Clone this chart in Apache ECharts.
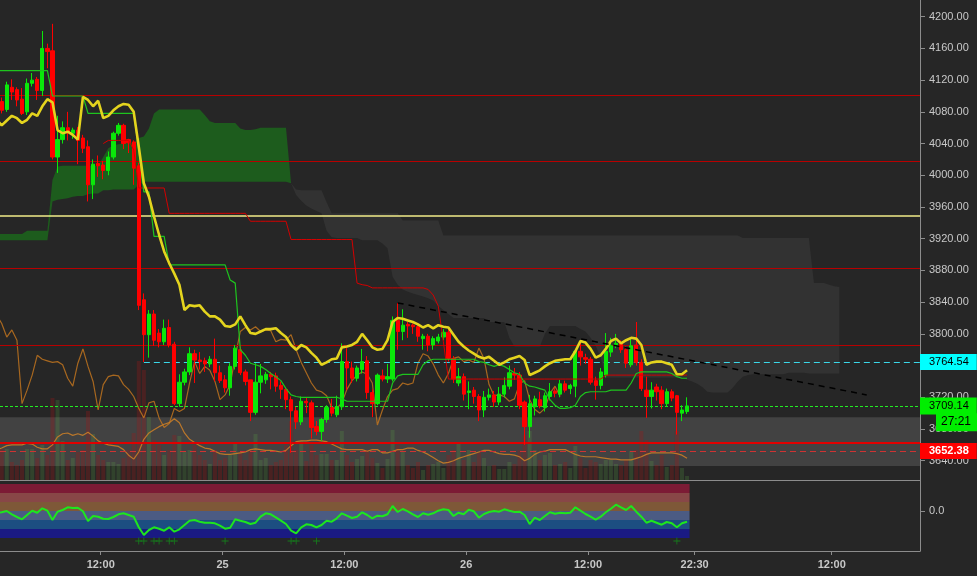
<!DOCTYPE html>
<html><head><meta charset="utf-8">
<script src="https://cdn.jsdelivr.net/npm/echarts@6/dist/echarts.min.js"></script>
<style>html,body{margin:0;padding:0;background:#262626;}#c{width:977px;height:576px;}</style>
</head><body><div id="c"></div><script>
// ---------- time axis ----------
const FIRST_BAR_HOUR = 1.75;      // hours after 24th 00:00 of the first 30-min candle
const BAR_HOURS = 0.5;
const timeTicks = [12, 24, 36, 48, 60, 70.5, 84];
const timeTickLabels = ['12:00', '25', '12:00', '26', '12:00', '22:30', '12:00'];
const priceTicks = [3640,3680,3720,3760,3800,3840,3880,3920,3960,4000,4040,4080,4120,4160,4200];

// ---------- candles [open, high, low, close] ----------
const candleOHLC = [
[4166,4172,4078,4082],[4093,4098,4078,4082],[4083,4118,4080,4114],[4111,4121,4095,4105],[4108,4111,4087,4095],
[4096,4110,4076,4078],[4080,4122,4076,4116],[4116,4129,4112,4120],[4121,4124,4095,4107],[4107,4182,4100,4160],
[4160,4166,4135,4156],[4157,4191,4020,4023],[4023,4075,4003,4045],[4045,4068,4040,4060],[4060,4080,4044,4055],
[4053,4060,4046,4057],[4057,4061,4014,4044],[4047,4051,4028,4034],[4036,4044,3967,3988],[3988,4020,3970,4014],
[4015,4025,3998,4012],[4013,4018,3995,4006],[4006,4030,4000,4023],[4023,4055,4020,4053],[4053,4066,4050,4063],
[4063,4065,4033,4040],[4045,4046,4028,4041],[4042,4044,3988,4009],[4012,4016,3830,3836],[3843,3851,3764.54,3799],
[3799,3830,3770,3825],[3825,3830,3785,3792],[3801,3806,3783,3790],[3790,3818,3786,3807],[3808,3818,3783,3786],
[3787,3790,3710,3712],[3712,3749,3708,3739],[3739,3756,3735,3752],[3752,3783,3748,3775],[3775,3780,3738,3767],
[3767,3777,3755,3765],[3766,3770,3752,3762],[3762,3772,3758,3768],[3768,3794,3740,3751],[3751,3760,3738,3741],
[3742,3748,3726,3732],[3732,3763,3722,3759],[3759,3786,3755,3782],[3780,3784,3748,3751],[3752,3755,3735,3740],
[3742,3742,3690,3701],[3701,3763,3698,3739],[3739,3762,3725,3747],[3742,3752,3737,3749],[3749,3752,3730,3746],
[3747,3751,3727,3734],[3735,3740,3718,3730],[3730,3733,3705,3717],[3717,3721,3650,3703],[3703,3708,3680,3689],
[3689,3721,3685,3715],[3715,3720,3700,3713],[3713,3716,3668,3682],[3683,3690,3672,3677],[3677,3694,3665,3692],
[3692,3710,3688,3707],[3707,3718,3696,3700],[3698,3722,3695,3708],[3708,3788,3704,3765],[3765,3782,3729,3757],
[3757,3765,3738,3744],[3744,3760,3740,3757],[3755,3781,3750,3765],[3766,3772,3718,3726],[3726,3730,3695,3712],
[3712,3750,3710,3748],[3747,3755,3740,3743],[3743,3762,3738,3746],[3743,3822,3740,3817],[3817,3839,3780,3803],
[3803,3831,3792,3811],[3812,3815,3795,3810],[3811,3813,3800,3809],[3809,3812,3790,3797],[3794,3800,3780,3797],
[3797,3800,3778,3786],[3786,3797,3780,3794],[3791,3800,3788,3796],[3796,3806,3792,3802],[3802,3806,3765,3769],
[3769,3772,3738,3743],[3738,3757,3734,3746],[3746,3750,3716,3724],[3726,3740,3705,3728],[3729,3733,3712,3721],
[3721,3724,3690,3704],[3704,3728,3695,3720],[3720,3731,3716,3723],[3723,3728,3708,3714],[3714,3733,3710,3724],
[3724,3745,3720,3735],[3734,3760,3730,3751],[3750,3757,3742,3748],[3748,3752,3705,3710],[3714,3716,3660,3683],
[3683,3723,3669,3712],[3708,3722,3697,3718],[3717,3727,3706,3709],[3707,3726,3702,3722],[3721,3738,3716,3727],
[3728,3732,3720,3725],[3724,3742,3720,3737],[3737,3741,3726,3729],[3731,3737,3724,3735],[3734,3780,3720,3778],
[3778,3792,3760,3771],[3770,3775,3762,3768],[3768,3771,3736,3739],[3741,3746,3717,3735],[3735,3757,3730,3752],
[3748,3801,3745,3778],[3777,3795,3771,3785],[3785,3800,3782,3788],[3788,3792,3776,3780],[3780,3784,3757,3763],
[3761,3795,3758,3785],[3786,3815,3760,3764],[3764,3768,3728,3731],[3729,3746,3694,3721],[3721,3739,3706,3729],
[3733,3737,3716,3727],[3729,3734,3705,3712],[3712,3731,3708,3727],[3727,3730,3715,3719],[3722,3723,3673,3701],
[3700,3710,3690,3704],[3702,3720,3699,3709.14]
];

const volume = [
300,310,310,180,150,200,310,310,220,350,
250,820,800,390,200,220,280,300,690,460,
250,200,180,180,160,220,300,470,1190,1100,
630,400,350,250,300,450,440,280,300,350,
250,200,160,300,200,220,250,360,280,200,
300,460,200,220,150,180,200,350,590,300,
390,190,350,250,260,260,200,200,490,250,
180,210,240,300,220,170,120,210,500,350,
280,150,120,180,100,150,160,180,120,250,
300,360,200,300,180,280,220,140,150,110,
110,180,160,300,450,490,300,200,250,270,
150,160,180,120,340,220,120,200,180,160,
200,200,160,150,200,290,300,490,400,190,
150,250,130,150,490,120,40];

// ---------- indicator lines (one value per candle) ----------
const yellowLine = [
4070,4063,4069,4075,4072,4066,4070,4078,4075,4087,
4096,4092,4057,4053,4055,4051,4045,4099,4095,4087,
4094,4072,4075,4082,4087,4090,4089,4080,4036,3990,
3973,3948,3925,3904,3889,3876,3862,3830,3836,3835,
3836,3828,3822,3822,3818,3810,3809,3812,3822,3811,
3801,3800,3803,3806,3806,3807,3801,3796,3786,3780,
3786,3783,3776,3770,3761,3764,3768,3769,3783,3784,
3786,3790,3800,3792,3783,3780,3781,3792,3815,3820,
3819,3817,3815,3812,3808,3811,3807,3811,3809,3808,
3799,3790,3784,3779,3775,3771,3769,3771,3766,3761,
3764,3768,3770,3772,3767,3748,3751,3754,3759,3763,
3766,3767,3768,3768,3778,3791,3789,3781,3770,3773,
3781,3791,3794,3788,3792,3795,3794,3786,3761,3764,
3765,3765,3763,3761,3749,3749,3754];

const kijunLine = [
4132,4132,4132,4132,4132,4132,4132,4132,4132,4132,4132,
4100,4100,4100,4100,4100,4100,4100,
4078,4078,4078,4078,4078,4078,4078,4078,4078,4078,
4032,3979,3979,3923,3923,3923,
3887,3887,3887,3887,3887,3887,3887,3887,3887,3887,3887,3887,
3868,3864,3780,
3773,3763,3761,3759,3755,3750,3746,3741,3731,3723,3721,
3720,3720,3720,3720,3720,3720,3720,3720,
3718,
3715,3715,3715,3715,3715,3715,3715,3715,3715,
3738,3747,
3749,3749,3749,3749,
3761,3766,
3768,3768,3768,3768,3768,3768,3768,3768,3768,
3765,3764,3761,3759,3761,3759,3755,3751,3749,3738,3734,3733,3731,3729,3717,3710,3706,3706,3707,3710,3721,3726,
3727,3727,3727,3727,
3729,3729,3729,3729,
3738,3750,
3752,3752,3752,3752,3752,3752,
3750,3746,3744,3744];

const redStepStart = 21;
const redStepLine = [
4040,4044,4044,4044,4044,4044,
4032,
3984,3984,3984,3984,3984,3984,
3952,3952,3952,3952,3952,3952,3952,3952,3952,3952,3952,3952,3952,3952,3952,3952,
3942,3942,3942,3942,3942,3942,3942,3942,
3919,3919,3919,3919,3919,3919,3919,3919,3919,3919,3919,3919,3919,
3864,3862,3861,
3858,3858,3858,3858,3858,3858,3858,3858,3858,3858,3858,
3856,3849,3835,3790,
3743,3743,3743,3743,3743,3743,3743,3743,3743,3743,3743,3743,3743,3743,3743,3743,
3743,3743,3743,3743,3743,3743,3743,3743,3743,3743,3743,3743,3743,3743,3743,
3748,3748,3748,3748,3748,3748,3748,3748,3748,3748,3748,3748,3748,3748,3748,3748,3748];

const orangeUpper = [
3824,3813,3796,3805,3792,3712,3729,3748,3773,3768,
3766,3764,3765,3761,3744,3734,3763,3781,3759,3740,
3704,3736,3746,3748,3747,3736,3730,3721,3706,3694,
3713,3715,3694,3682,3687,3706,3702,3706,3738,3765,
3750,3759,3754,3740,3717,3723,3736,3771,3803,3808,
3805,3809,3803,3805,3804,3790,3793,3792,3799,3780,
3764,3751,3738,3729,3727,3722,3707,3706,3713,3730,
3741,3748,3752,3749,3738,3685,3704,3721,3729,3731,
3738,3736,3738,3763,3775,3772,3762,3748,3738,3750,
3769,3771,3765,3767,3764,3782,3769,3736,3722,3723,
3721,3715,3718,3737,3741,3717,3705,3700,3706,3725,
3734,3721];

const orangeLower = [
3654,3656,3659,3660,3660,3660,3662,3661,3657,3655,
3655,3660,3670,3674,3675,3672,3674,3672,3676,3671,
3665,3662,3660,3659,3658,3654,3647,3642,3651,3667,
3675,3679,3683,3686,3688,3693,3688,3675,3667,3663,
3659,3656,3655,3652,3649,3648,3648,3649,3650,3651,
3654,3655,3654,3653,3653,3652,3651,3653,3659,3664,
3665,3665,3666,3666,3665,3664,3661,3658,3655,3654,
3654,3654,3654,3652,3654,3654,3650,3650,3652,3654,
3654,3656,3656,3653,3651,3648,3644,3640,3637,3638,
3640,3643,3645,3647,3649,3651,3653,3653,3651,3649,
3648,3648,3647,3645,3640,3643,3648,3651,3652,3654,
3654,3654,3654,3651,3648,3646,3645,3645,3645,3644,
3643,3642,3642,3641,3641,3641,3643,3645,3648,3650,
3650,3650,3650,3650,3649,3647,3643];

// ---------- cloud spans (extend 30 bars ahead) ----------
const spanA = [
3926,3926,3926,3926,3926,3926,3930,3930,3930,3930,3930,
3994,4011,
4012,4012,4012,4012,4012,4012,4012,4012,
4023,4034,4038,4039,4040,4041,4041,
4047,4049,4059,4078,
4083,4083,4083,4083,4083,4083,4083,4083,4083,
4076,4068,
4066,4066,4066,4066,4066,
4059,4057,4057,4058,
4060,4060,4060,4060,4060,4060,
3990,3975,3968,3962,3958,3955,3952,
3930,3922,
3921,3921,3921,3921,3921,
3918,3918,3918,3918,
3914,3908,3872,3862,3856,3853,3851,3849,3847,3845,3842,3835,3830,3825,
3820,3820,3820,3820,3820,3820,3820,
3815,3815,3815,3815,
3795,
3784,3784,3784,3784,3784,3784,
3800,
3810,3810,3810,3810,3810,3810,
3806,3803,3795,3785,3770,
3745,3745,3745,3745,3745,3745,3745,3745,3745,3745,3745,3745,3745,3745,3745,3745,
3742,3740,3737,3733,3727,
3726,3726,3726,3726,
3732,3740,3746,3748,
3749,3749,3749,3749,3749,3749,3749,
3751,3751,3751,3751,
3750,3750,3750,3750,3750,3750,3750];

const spanB = [
3918,3918,3918,3918,3918,3918,3918,3918,3918,3918,3918,
3967,3969,3970,3971,3973,3974,3974,3976,3977,3977,
3981,3981,
3982,3982,3982,3982,3982,
3988,
3992,3992,3992,3992,3992,3992,3992,3992,3992,3992,3992,3992,3992,3992,3992,
3992,3992,3992,3992,3992,3992,3992,3992,3992,3992,3992,3992,3992,3992,
3990,3982,
3981,3981,3981,3981,3981,
3966,
3952,3952,3952,3952,3952,3952,3952,3952,3952,3952,3952,3952,3952,3952,
3943,3943,3943,3943,3943,3943,3943,3943,
3924,3924,3924,3924,3924,3924,3924,3924,3924,3924,3924,3924,3924,3924,3924,3924,3924,3924,3924,3924,
3924,3924,3924,3924,3924,3924,3924,3924,3924,3924,3924,3924,3924,3924,3924,3924,3924,3924,3924,3924,
3924,3924,3924,3924,3924,3924,3924,3924,3924,3924,3924,3924,3924,3924,3924,3924,3924,3924,3924,
3921,3921,3921,3921,3921,3921,3921,3921,3921,3921,3921,3921,3921,3921,
3864,3864,3864,3862,3860,3859];

// ---------- price levels ----------
const redLevels = [4101, 4018, 3883, 3786];
const paleLevel = 3949.5;
const supportLevel = 3663;
const lastLow = 3652.38;
const lastPrice = 3709.14;
const barTimer = '27:21';
const cyanLevel = 3764.54;
const cyanStartBar = 29;
const grayBand = [3633.4, 3694.8];
const trendLine = [[79, 3839], [171.4, 3723]];   // [bar index, price]

// ---------- lower oscillator ----------
const oscillator = [
-2,-1.3,0,-3.3,-6,-8.3,-4,0.3,-1.7,2.7,0.3,
-9,-0.7,1,3.7,3,3.3,-0.3,-10,-5,-5.7,
-7.7,-8,-6,-3.3,-2.3,-4,-5.7,-16.3,-24,-19,
-16.3,-17.7,-19.7,-16.3,-20.7,-18.3,-14,-9.7,-9,-10.7,
-11.7,-11.7,-12.3,-14.7,-17.7,-16.7,-8.3,-9.7,-11,-13,
-11.7,-5.7,-2.3,-3.3,-6.3,-9.7,-13,-19.7,-22.3,-16.3,
-13.3,-14,-16.3,-14,-9.7,-10.7,-7.3,-2.3,-4.7,-7,
-5.7,-1.3,-4,-7.3,-4.7,-5.3,-3.3,5,-1,2,
-0.3,-3.3,-6,-2.3,-3.7,-2.3,0.3,1.7,1,-5,
-1.7,-3.3,1.3,-0.3,-6.7,-3,-1,0,-0.7,1.7,
0.3,-1,-0.7,-4,-13,-6.7,-9,-5,-1.3,-2.7,
-1.7,-2.3,-1.7,3.7,0.3,-3,-5.7,-8.7,-5.7,-1.3,
2.3,6.3,3.7,1,5,-0.7,-5.7,-11.7,-9.7,-11.7,
-13.7,-11,-12.3,-16.3,-12.3,-10.7];
const oscBandLevels = [27, 18, 9, 0, -9, -18, -27];
const oscBandColors = ['#7c1b35', '#884747', '#7e5838', '#4b5b83', '#1c4e81', '#1a1a83'];
const oscSignalBars = [28, 29, 31, 32, 34, 35, 45, 58, 59, 63, 134];
const oscSignalLevel = -30;

// ---------- chart ----------
const X_MIN = 2.0818, X_MAX = 92.696;
const Y_MIN = 3615.7, Y_MAX = 4221.06;
function barX(k) { return FIRST_BAR_HOUR + BAR_HOURS * k; }

const UP = '#0ae80a', DOWN = '#ff0000';
const AXIS_C = '#8c8c8c', LABEL_C = '#c8c8c8';
const FONT = 'Liberation Sans, Arial, sans-serif';
const CLOUD_UP = '#1d5c1d', CLOUD_DN = '#323232';

const chart = echarts.init(document.getElementById('c'));

// whole cloud drawn as one polygon per same-colour run
function cloudItem(params, api) {
  const children = [];
  let cur = null;
  const flush = () => {
    if (!cur) return;
    const pts = cur.top.concat(cur.bot.slice().reverse()).map(pt => api.coord(pt));
    children.push({ type: 'polygon', shape: { points: pts },
      style: { fill: cur.up ? CLOUD_UP : CLOUD_DN } });
  };
  for (let i = 0; i < spanA.length; i++) {
    const x = barX(i), a = spanA[i], b = spanB[i], d = a - b;
    const up = d >= 0;
    if (cur && cur.up !== up) {
      const dp = spanA[i - 1] - spanB[i - 1];
      const t = dp / (dp - d);
      const xc = barX(i - 1) + t * BAR_HOURS;
      const yc = spanA[i - 1] + t * (a - spanA[i - 1]);
      cur.top.push([xc, yc]); cur.bot.push([xc, yc]);
      flush();
      cur = { up, top: [[xc, yc]], bot: [[xc, yc]] };
    }
    if (!cur) cur = { up, top: [], bot: [] };
    cur.top.push([x, a]); cur.bot.push([x, b]);
  }
  flush();
  return { type: 'group', children };
}

const lineSeries = (name, data, start, color, width, z) => ({
  name, type: 'line', xAxisIndex: 0, yAxisIndex: 0, z,
  data: data.map((v, i) => [barX(i + start), v]),
  symbol: 'none', silent: true,
  lineStyle: { color, width }
});

const boxLabel = (bg, fg, bold, extra) => Object.assign({
  show: true, position: 'end', distance: 0,
  backgroundColor: bg, color: fg, fontSize: 11, fontFamily: FONT,
  fontWeight: bold ? 'bold' : 'normal', lineHeight: 12, padding: [2, 8, 2, 9]
}, extra || {});

const option = {
  backgroundColor: '#262626',
  animation: false,
  textStyle: { fontFamily: FONT },
  grid: [
    { left: 0, right: 57, top: 0, height: 480 },
    { left: 0, right: 57, top: 480, height: 71 }
  ],
  xAxis: [
    { type: 'value', gridIndex: 0, min: X_MIN, max: X_MAX,
      axisLine: { show: true, onZero: false, lineStyle: { color: AXIS_C } },
      axisTick: { show: false }, axisLabel: { show: false }, splitLine: { show: false } },
    { type: 'value', gridIndex: 1, min: X_MIN, max: X_MAX,
      axisLine: { show: true, onZero: false, lineStyle: { color: AXIS_C } },
      axisTick: { show: true, customValues: timeTicks, length: 4, lineStyle: { color: AXIS_C } },
      axisLabel: { show: true, customValues: timeTicks, margin: 8, color: LABEL_C, fontSize: 11, fontWeight: 'bold',
        fontFamily: FONT, formatter: v => timeTickLabels[timeTicks.indexOf(v)] },
      splitLine: { show: false } }
  ],
  yAxis: [
    { type: 'value', gridIndex: 0, position: 'right', min: Y_MIN, max: Y_MAX,
      axisLine: { show: true, onZero: false, lineStyle: { color: AXIS_C } },
      axisTick: { show: true, customValues: priceTicks, length: 5, lineStyle: { color: AXIS_C } },
      axisLabel: { show: true, customValues: priceTicks, margin: 9, color: LABEL_C, fontSize: 11, fontFamily: FONT,
        formatter: v => v.toFixed(2) },
      splitLine: { show: false } },
    { type: 'value', gridIndex: 0, show: false, min: 0, max: 4800, splitLine: { show: false } },
    { type: 'value', gridIndex: 1, position: 'right', min: -40, max: 31,
      axisLine: { show: true, onZero: false, lineStyle: { color: AXIS_C } },
      axisTick: { show: true, customValues: [0], length: 5, lineStyle: { color: AXIS_C } },
      axisLabel: { show: true, customValues: [0], margin: 9, color: LABEL_C, fontSize: 11, fontFamily: FONT,
        formatter: v => v.toFixed(1) },
      splitLine: { show: false } }
  ],
  series: [
    { // Ichimoku-like cloud
      type: 'custom', xAxisIndex: 0, yAxisIndex: 0, z: 1, silent: true, clip: true,
      data: [[barX(0), spanA[0]]],
      encode: { x: 0, y: 1 },
      renderItem: cloudItem
    },
    { // band + horizontal levels
      type: 'line', xAxisIndex: 0, yAxisIndex: 0, z: 2, data: [], silent: true,
      markArea: { silent: true, itemStyle: { color: 'rgba(255,255,255,0.13)' },
        data: [[{ yAxis: grayBand[1] }, { yAxis: grayBand[0] }]] },
      markLine: { silent: true, symbol: ['none', 'none'], label: { show: false },
        data: redLevels.map(v => ({ yAxis: v, lineStyle: { color: '#b80000', width: 1, type: 'solid' } }))
          .concat([
            { yAxis: paleLevel, lineStyle: { color: '#f2ed8a', width: 1.5, type: 'solid' } },
            { yAxis: supportLevel, lineStyle: { color: '#e00000', width: 2, type: 'solid' } }
          ]) }
    },
    { // volume
      type: 'bar', xAxisIndex: 0, yAxisIndex: 1, z: 3, silent: true, barWidth: 4,
      data: volume.map((v, k) => ({
        value: [barX(k), v],
        itemStyle: { color: candleOHLC[k][3] >= candleOHLC[k][0] ? 'rgba(90,170,70,0.22)' : 'rgba(170,20,20,0.28)' }
      }))
    },
    lineSeries('orangeUpper', orangeUpper, 0, 'rgba(190,115,30,0.85)', 1.2, 4),
    lineSeries('orangeLower', orangeLower, 0, 'rgba(200,125,40,0.9)', 1.2, 4),
    { type: 'candlestick', xAxisIndex: 0, yAxisIndex: 0, z: 5, silent: true, barWidth: 3.8,
      data: candleOHLC.map((c, k) => [barX(k), c[0], c[3], c[2], c[1]]),
      encode: { x: 0, y: [1, 2, 3, 4] },
      itemStyle: { color: UP, color0: DOWN, borderColor: UP, borderColor0: DOWN, borderWidth: 1 } },
    lineSeries('redStep', redStepLine, redStepStart, '#d40000', 1, 6),
    lineSeries('kijun', kijunLine, 0, '#1ec41e', 1.2, 6),
    lineSeries('yellow', yellowLine, 0, '#e4d41e', 2.6, 7),
    { type: 'line', xAxisIndex: 0, yAxisIndex: 0, z: 7, silent: true, symbol: 'none',
      data: trendLine.map(t => [barX(t[0]), t[1]]),
      lineStyle: { color: '#000000', width: 1.5, type: [6, 5] } },
    { // price labels
      type: 'line', xAxisIndex: 0, yAxisIndex: 0, z: 10, data: [], silent: true,
      markLine: { silent: true, symbol: ['none', 'none'],
        data: [
          [{ coord: [barX(cyanStartBar), cyanLevel], lineStyle: { color: '#3ad8e8', width: 1, type: [6, 4] },
             label: boxLabel('#00ffff', '#000', false, { formatter: () => cyanLevel.toFixed(2) }) },
           { coord: [X_MAX, cyanLevel] }],
          { yAxis: lastPrice, lineStyle: { color: '#22ee22', width: 1, type: [3, 2] },
            label: boxLabel('#00ee00', '#000', false, { formatter: () => lastPrice.toFixed(2), padding: [3, 8, 2, 9] }) },
          { yAxis: lastPrice - 20.5, lineStyle: { color: 'rgba(0,0,0,0)', width: 1 },
            label: boxLabel('#00ee00', '#000', false, { formatter: () => barTimer, distance: 16, fontSize: 12, padding: [3, 8, 3, 5] }) },
          { yAxis: lastLow, lineStyle: { color: '#d03232', width: 1, type: [6, 4] },
            label: boxLabel('#ff0000', '#fff', true, { formatter: () => lastLow.toFixed(2) }) }
        ] }
    },
    { // oscillator colour bands
      type: 'line', xAxisIndex: 1, yAxisIndex: 2, z: 1, data: [], silent: true,
      markArea: { silent: true,
        data: oscBandColors.map((c, i) => [
          { xAxis: X_MIN, yAxis: oscBandLevels[i], itemStyle: { color: c } },
          { xAxis: barX(oscillator.length - 1) + BAR_HOURS / 2, yAxis: oscBandLevels[i + 1] }
        ]) }
    },
    { type: 'line', xAxisIndex: 1, yAxisIndex: 2, z: 3, silent: true, symbol: 'none',
      data: oscillator.map((v, k) => [barX(k), v]),
      lineStyle: { color: '#1ee61e', width: 2 } },
    { type: 'scatter', xAxisIndex: 1, yAxisIndex: 2, z: 3, silent: true,
      symbol: 'path://M4.4,0H5.6V4.4H10V5.6H5.6V10H4.4V5.6H0V4.4H4.4Z', symbolSize: 7,
      data: oscSignalBars.map(k => [barX(k), oscSignalLevel]),
      itemStyle: { color: '#12901a' } }
  ]
};
chart.setOption(option);
</script></body></html>
